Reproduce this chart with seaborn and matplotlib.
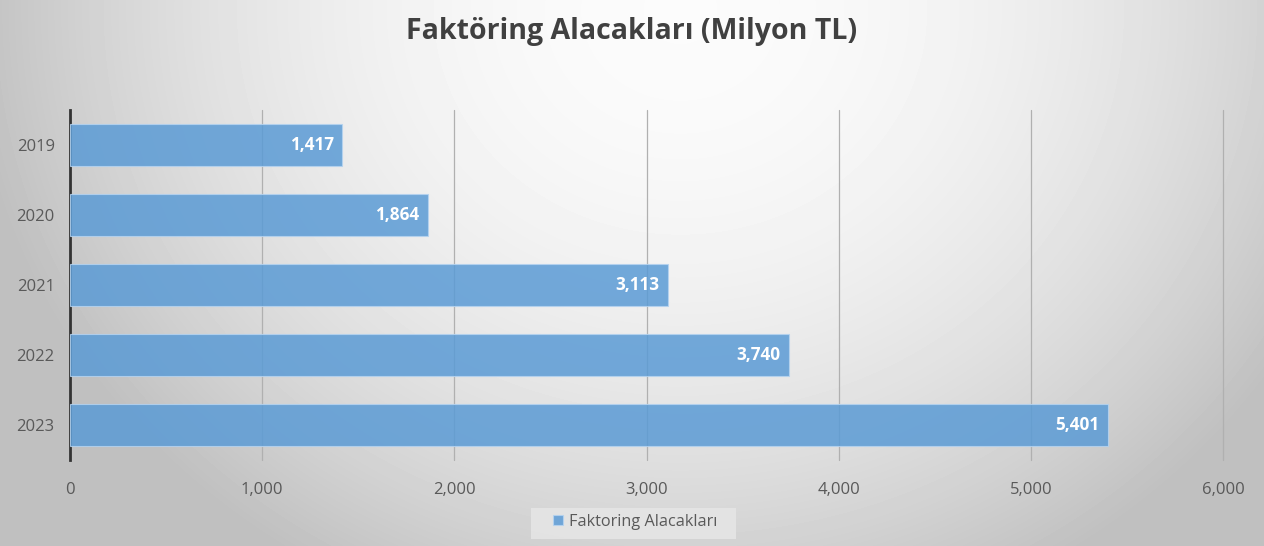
import matplotlib
matplotlib.use("Agg")
import matplotlib.pyplot as plt
import numpy as np
import pandas as pd
import seaborn as sns
from matplotlib.patches import Rectangle
from matplotlib.ticker import FuncFormatter

# Veriler
years = ["2019", "2020", "2021", "2022", "2023"]
values = [1417, 1864, 3113, 3740, 5401]
series_name = "Faktoring Alacakları"
title = "Faktöring Alacakları (Milyon TL)"

df = pd.DataFrame({"Yil": years, "Deger": values})

sns.set_style("white")
plt.rcParams["font.family"] = ["Open Sans", "DejaVu Sans"]

fig = plt.figure(figsize=(12.64, 5.46), dpi=100)

# radyal gri arka plan
bg = fig.add_axes([0, 0, 1, 1], zorder=-10)
yy, xx = np.mgrid[0:546, 0:1264]
d2 = (xx - 680.0) ** 2 + ((yy - 10.0) * 1.1) ** 2
shade = np.clip(0.985 - 4.6e-7 * d2, 0.75, 1.0)
bg.imshow(shade, cmap="gray", vmin=0, vmax=1, aspect="auto", interpolation="bilinear")
bg.axis("off")
# lejant kutusu
bg.add_patch(Rectangle((530, 507), 205, 31, facecolor="#e6e6e6", alpha=0.85, edgecolor="none"))

ax = fig.add_axes([70 / 1264, 1 - 460 / 546, (1223 - 70) / 1264, 350 / 546])
ax.patch.set_alpha(0)

sns.barplot(data=df, x="Deger", y="Yil", orient="h", color="#5B9BD5", saturation=1, alpha=0.85,
            width=0.59, edgecolor="#b5d3f0", linewidth=0.8, ax=ax, label=series_name, zorder=3)

ax.set_xlim(0, 6000)
ax.set_ylim(4.5, -0.5)
ax.xaxis.set_major_locator(plt.MultipleLocator(1000))
ax.xaxis.set_major_formatter(FuncFormatter(lambda v, p: f"{int(v):,}"))
ax.grid(axis="x", color="#b0b0b0", linewidth=0.9, zorder=1)
for gl in ax.get_xgridlines():
    gl.set_clip_on(False)
ax.set_axisbelow(True)
ax.tick_params(axis="both", length=0, labelsize=12, labelcolor="#595959")
ax.tick_params(axis="x", pad=16)
ax.tick_params(axis="y", pad=11)
ax.set_xlabel("")
ax.set_ylabel("")
for s in ["top", "right", "bottom"]:
    ax.spines[s].set_visible(False)
ax.spines["left"].set_color("#333333")
ax.spines["left"].set_linewidth(2)

for i, v in enumerate(values):
    ax.text(v - 45, i, f"{v:,}", ha="right", va="center", color="white",
            fontsize=12.3, fontweight="bold", zorder=5)

fig.text(0.5, 1 - 32 / 546, title, ha="center", va="center", fontsize=20.5,
         fontweight="bold", color="#404040")

leg = ax.legend(loc="center", bbox_to_anchor=(0.5 - 11 / 1153, (460 - 522) / 350), frameon=False,
                fontsize=11.7, handlelength=0.6, handleheight=0.6, handletextpad=0.4,
                borderpad=0.3, borderaxespad=0, labelcolor="#595959")

fig.savefig("out.png", dpi=100)
